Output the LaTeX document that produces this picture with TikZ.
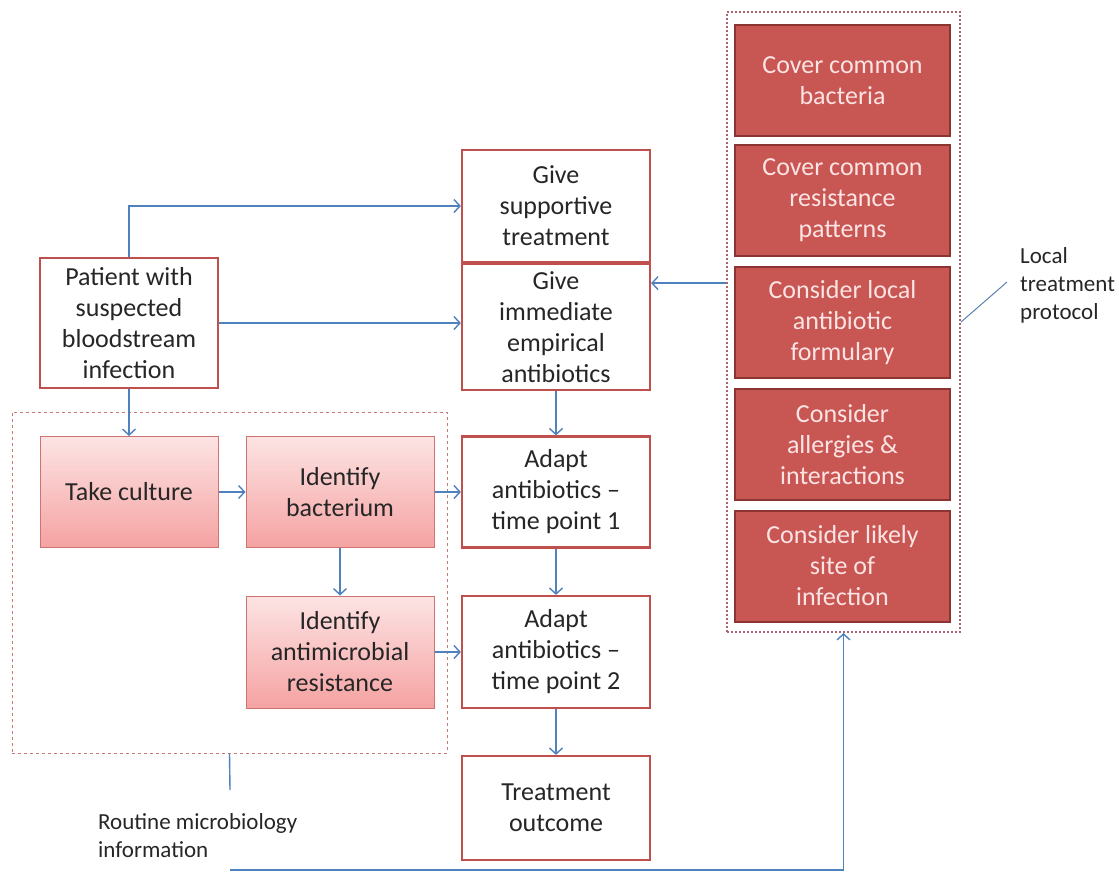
\documentclass[tikz,border=0pt]{standalone}
\usepackage{fontspec}
\setmainfont{Carlito}
\usetikzlibrary{arrows.meta,positioning}
\definecolor{boxred}{RGB}{192,80,77}
\definecolor{darkred}{RGB}{200,86,83}
\definecolor{darkedge}{RGB}{140,52,50}
\definecolor{pinktop}{RGB}{253,228,228}
\definecolor{pinkbot}{RGB}{245,162,162}
\definecolor{pinkedge}{RGB}{205,115,112}
\definecolor{arrblue}{RGB}{79,129,189}
\definecolor{dotgrey}{RGB}{170,100,112}
\definecolor{dashred}{RGB}{200,120,115}

\begin{document}
\begin{tikzpicture}[x=1pt,y=-1pt,>={Straight Barb[length=6pt,width=13pt]},
  txt/.style={font=\fontsize{26}{31}\selectfont,align=center,text=black!85},
  wbox/.style={txt,draw=boxred,line width=2.2pt,fill=white,minimum width=188pt},
  pbox/.style={txt,draw=pinkedge,line width=1pt,top color=pinktop,bottom color=pinkbot,minimum height=111pt},
  rbox/.style={txt,text=pinktop,draw=darkedge,line width=2pt,fill=darkred,minimum width=215pt,minimum height=111pt},
  arr/.style={->,draw=arrblue,line width=1.4pt},
  lbl/.style={font=\fontsize{23}{28}\selectfont,align=left,text=black!85}]

\useasboundingbox (0,0) rectangle (1119,875);

% grouping frames
\node[draw=dashred,dashed,line width=1pt,minimum width=435pt,minimum height=341pt] (micro) at (229.5,582.5) {};
\node[draw=dotgrey,dotted,line width=2pt,minimum width=233pt,minimum height=620pt] (prot) at (843.5,322) {};

% main flow
\node[wbox,minimum width=178pt,minimum height=130pt] (pat) at (129,323) {Patient with\\suspected\\bloodstream\\infection};
\node[wbox,minimum height=112pt] (sup) at (556,206) {Give\\supportive\\treatment};
\node[wbox,minimum height=126pt,below=0pt of sup] (emp) {Give\\immediate\\empirical\\antibiotics};
\node[wbox,minimum height=111pt] (ad1) at (556,492) {Adapt\\antibiotics --\\time point 1};
\node[wbox,minimum height=112pt] (ad2) at (556,652) {Adapt\\antibiotics --\\time point 2};
\node[wbox,minimum height=104pt] (out) at (556,808) {Treatment\\outcome};

% microbiology
\node[pbox,minimum width=178pt] (cult) at (129,492) {Take culture};
\node[pbox,minimum width=188pt] (bact) at (340,492) {Identify\\bacterium};
\node[pbox,minimum width=188pt,minimum height=112pt] (amr) at (340,652) {Identify\\antimicrobial\\resistance};

% protocol items
\node[rbox] (r1) at (842.5,80.5) {Cover common\\bacteria};
\node[rbox] (r2) at (842.5,200.5) {Cover common\\resistance\\patterns};
\node[rbox] (r3) at (842.5,322.5) {Consider local\\antibiotic\\formulary};
\node[rbox] (r4) at (842.5,444.5) {Consider\\allergies \&\\interactions};
\node[rbox] (r5) at (842.5,566) {Consider likely\\site of\\infection};

% labels
\node[lbl,anchor=west,inner sep=0pt] (ltp) at (1020,285) {Local\\treatment\\protocol};
\node[lbl,anchor=west,inner sep=0pt] (rmi) at (98,836) {Routine microbiology\\information};
\coordinate (mc) at (230,790);
\coordinate (mb) at (230,870);
\coordinate (lt) at (1007,282);

\draw[arr] (pat.north) |- (sup.west);
\draw[arr] (pat.east) -- (emp.west |- pat.east);
\draw[arr] (pat.south) -- (cult.north);
\draw[arr] (cult) -- (bact);
\draw[arr] (bact) -- (ad1);
\draw[arr] (bact) -- (amr);
\draw[arr] (amr) -- (ad2);
\draw[arr] (emp) -- (ad1);
\draw[arr] (ad1) -- (ad2);
\draw[arr] (ad2) -- (out);
\draw[arr] ([yshift=-20pt]prot.west |- emp.north) -- ([yshift=-20pt]emp.north east);
\draw[arr,-] (micro.south) -- (mc);
\draw[arr] (mb) -| (prot.south);
\draw[draw=arrblue!80!gray,line width=1pt] (prot.east) -- (lt);

\end{tikzpicture}
\end{document}
